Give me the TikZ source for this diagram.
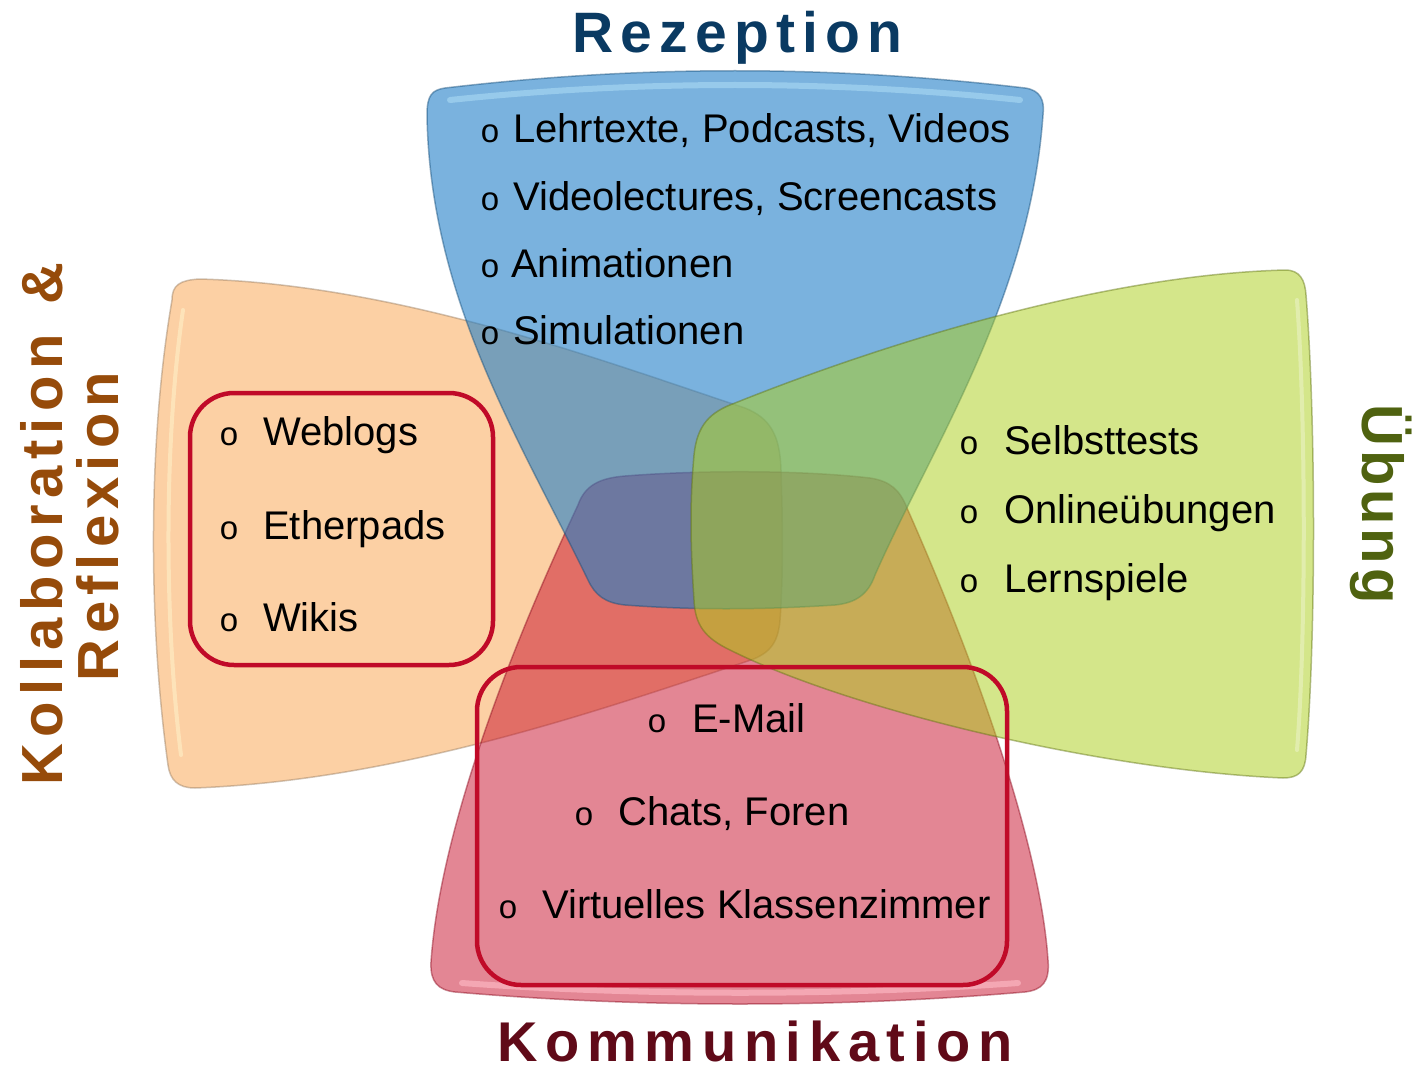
\documentclass[tikz,border=0pt]{standalone}
\usepackage{fontspec}
\setmainfont{Liberation Sans}

\definecolor{orangefill}{RGB}{252,208,164}
\definecolor{redfill}{RGB}{199,13,41}
\definecolor{bluefill}{RGB}{33,127,200}
\definecolor{greenfill}{RGB}{173,207,31}
\definecolor{boxred}{RGB}{192,10,40}
\definecolor{rezcol}{RGB}{10,58,98}
\definecolor{komcol}{RGB}{96,10,24}
\definecolor{kolcol}{RGB}{150,75,10}
\definecolor{uebcol}{RGB}{79,98,16}

\newcommand\itemfont{\fontsize{40}{48}\selectfont}
\newcommand\bulfont{\fontsize{33}{40}\selectfont}
\newcommand\headfont[1]{\bfseries\fontsize{#1}{#1}\selectfont}

% letter-spaced heading text: kern after every token
\makeatletter
\newcommand\tracked[2]{\@tfor\trk@c:=#2\do{\trk@c\kern#1}}
\makeatother

\begin{document}
\begin{tikzpicture}[x=1pt,y=-1pt,
  petal/.style={line width=1.5pt, draw opacity=0.45},
  glint/.style={line width=6pt, line cap=round},
  listbox/.style={draw=boxred, line width=4.5pt, rounded corners=44pt},
  entry/.style={anchor=base west, inner sep=0pt, font=\itemfont},
  bul/.style={anchor=base, inner sep=0pt, font=\bulfont},
  heading/.style={anchor=base west, inner sep=0pt}]

\useasboundingbox (0,0) rectangle (1414,1070);

% --- Kollaboration & Reflexion (left petal)
\path[fill=orangefill, draw=orangefill!60!black, petal]
  (172,300) .. controls (172,285) and (180,280) .. (200,279)
  .. controls (400,285) and (600,360) .. (745,408)
  .. controls (770,418) and (780,435) .. (781,470)
  .. controls (783,530) and (783,580) .. (780,620)
  .. controls (778,645) and (768,655) .. (745,662)
  .. controls (600,710) and (400,780) .. (195,788)
  .. controls (178,788) and (170,780) .. (168,765)
  .. controls (148,620) and (148,440) .. (172,300) -- cycle;
\draw[glint, draw={rgb,255:red,255;green,240;blue,200}, opacity=0.6, line width=4pt]
  (183,310) .. controls (164,440) and (164,620) .. (181,755);

% --- Kommunikation (bottom petal)
\path[fill=redfill, fill opacity=0.5, draw=redfill!70!black, petal]
  (578,505) .. controls (585,485) and (600,478) .. (625,476)
  .. controls (700,470) and (800,470) .. (870,478)
  .. controls (890,481) and (900,490) .. (907,508)
  .. controls (970,650) and (1040,840) .. (1048,960)
  .. controls (1050,982) and (1042,990) .. (1025,992)
  .. controls (840,1008) and (640,1008) .. (455,992)
  .. controls (438,990) and (430,982) .. (431,962)
  .. controls (440,830) and (510,650) .. (578,505) -- cycle;
\draw[glint, draw={rgb,255:red,255;green,190;blue,200}, opacity=0.6]
  (462,983) .. controls (640,996) and (840,996) .. (1018,983);

% --- Rezeption (top petal)
\path[fill=bluefill, fill opacity=0.6, draw=bluefill!60!black, petal]
  (445,88) .. controls (640,65) and (830,65) .. (1025,88)
  .. controls (1040,90) and (1045,100) .. (1043,115)
  .. controls (1030,300) and (930,450) .. (875,575)
  .. controls (868,595) and (855,603) .. (835,605)
  .. controls (760,610) and (690,610) .. (625,605)
  .. controls (605,603) and (595,595) .. (588,580)
  .. controls (520,440) and (430,300) .. (427,115)
  .. controls (427,95) and (432,90) .. (445,88) -- cycle;
\draw[glint, draw={rgb,255:red,175;green,222;blue,245}, opacity=0.55]
  (450,100) .. controls (640,80) and (830,80) .. (1020,100);

% --- Übung (right petal)
\path[fill=greenfill, fill opacity=0.52, draw=greenfill!55!black, petal]
  (1285,270) .. controls (1300,270) and (1305,280) .. (1306,295)
  .. controls (1316,420) and (1316,640) .. (1306,755)
  .. controls (1305,772) and (1298,778) .. (1283,778)
  .. controls (1100,770) and (850,710) .. (730,650)
  .. controls (705,638) and (695,625) .. (694,600)
  .. controls (690,540) and (690,500) .. (694,455)
  .. controls (697,425) and (710,412) .. (735,403)
  .. controls (880,345) and (1100,275) .. (1285,270) -- cycle;
\draw[glint, draw=white, opacity=0.3, line width=4pt]
  (1297,300) .. controls (1306,420) and (1306,640) .. (1297,750);

% --- framed lists
\draw[listbox] (190,393) rectangle (493,665);
\draw[listbox] (477,667) rectangle (1007,985);

% --- Rezeption entries
\node[bul] (b1) at (490,143) {o};
\node[entry] (r1) at (513,143) {Lehrtexte, Podcasts, Videos};
\node[bul] (b2) at (490,211) {o};
\node[entry] (r2) at (513,211) {Videolectures, Screencasts};
\node[bul] (b3) at (490,277) {o};
\node[entry] (r3) at (511,277) {Animationen};
\node[bul] (b4) at (490,344) {o};
\node[entry] (r4) at (513,344) {Simulationen};

% --- Kollaboration entries
\node[bul] (b5) at (229,445) {o};
\node[entry] (k1) at (263,445) {Weblogs};
\node[bul] (b6) at (229,539) {o};
\node[entry] (k2) at (263,539) {Etherpads};
\node[bul] (b7) at (229,631) {o};
\node[entry] (k3) at (263,631) {Wikis};

% --- Übung entries
\node[bul] (b8) at (969,454) {o};
\node[entry] (u1) at (1004,454) {Selbsttests};
\node[bul] (b9) at (969,523) {o};
\node[entry] (u2) at (1004,523) {Onlineübungen};
\node[bul] (b10) at (969,592) {o};
\node[entry] (u3) at (1004,592) {Lernspiele};

% --- Kommunikation entries
\node[bul] (b11) at (657,732) {o};
\node[entry] (m1) at (692,732) {E-Mail};
\node[bul] (b12) at (584,825) {o};
\node[entry] (m2) at (618,825) {Chats, Foren};
\node[bul] (b13) at (508,918) {o};
\node[entry] (m3) at (542,918) {Virtuelles Klassenzimmer};

% --- headings
\node[heading, text=rezcol, font=\headfont{57}] (hRez) at (572,53)
  {\tracked{7.25pt}{Rezeption}};
\node[heading, text=komcol, font=\headfont{56}] (hKom) at (497,1061)
  {\tracked{7.7pt}{Kommunikation}};
\node[heading, text=kolcol, font=\headfont{58}, rotate=90] (hKol) at (62,786)
  {\tracked{6.5pt}{Kollaboration{ }\&}};
\node[heading, text=kolcol, font=\headfont{58}, rotate=90] (hRef) at (118,682)
  {\tracked{6.1pt}{Reflexion}};
\node[heading, text=uebcol, font=\headfont{58}, rotate=-90] (hUeb) at (1362,404)
  {\tracked{4pt}{Übung}};

\end{tikzpicture}
\end{document}
